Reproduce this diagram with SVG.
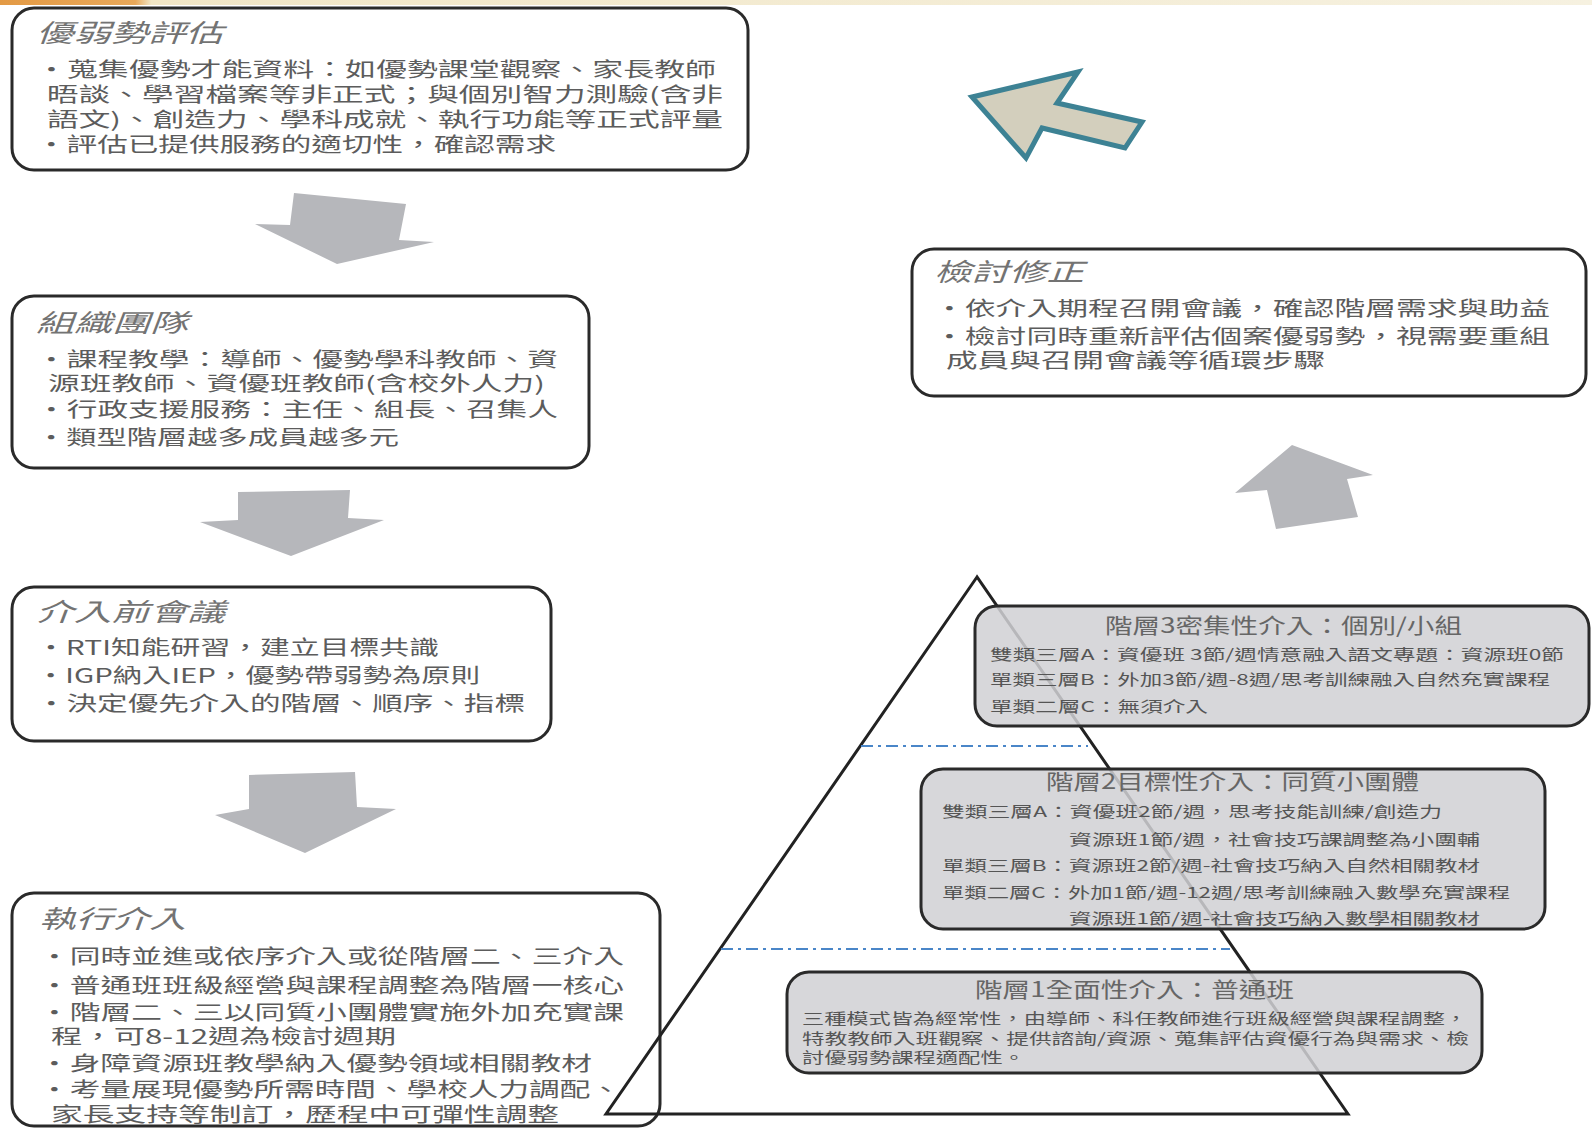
<svg xmlns="http://www.w3.org/2000/svg" width="1592" height="1130" viewBox="0 0 1592 1130">
<defs>
<linearGradient id="topband" x1="0" y1="0" x2="1" y2="0">
<stop offset="0" stop-color="#e39a45"/>
<stop offset="0.085" stop-color="#e8a85a"/>
<stop offset="0.095" stop-color="#f1e6c6"/>
<stop offset="1" stop-color="#f6f1e0"/>
</linearGradient>
<style>
.box{fill:#ffffff;stroke:#2a2a2a;stroke-width:3}
.tier{fill:#d0d1d4;fill-opacity:0.86;stroke:#2a2a2a;stroke-width:3}
.ttl{font-family:"Noto Sans CJK TC","Noto Sans CJK SC",sans-serif;font-size:25px;font-style:italic;fill:#737373}
.bd{font-family:"Noto Sans CJK TC","Noto Sans CJK SC",sans-serif;font-size:20px;fill:#5c5c5c}
.tt{font-family:"Noto Sans CJK TC","Noto Sans CJK SC",sans-serif;font-size:21px;fill:#666666}
.sm{font-family:"Noto Sans CJK TC","Noto Sans CJK SC",sans-serif;font-size:15px;fill:#555555}
.garrow{fill:#b6b7bb}
.dash{stroke:#4a86c8;stroke-width:2;stroke-dasharray:12 5 3 5;fill:none}
</style>
</defs>
<rect x="0" y="0" width="1592" height="5" fill="url(#topband)"/>

<g id="connectors">
<polygon class="garrow" points="294,193 406,204 399,240 434,242 337,264 255,224 290,225"/>
<polygon class="garrow" points="238,492 350,490 348,518 384,520 291,556 200,522 238,520"/>
<polygon class="garrow" points="249,775 355,772 357,807 396,809 305,853 215,815 249,809"/>
<polygon class="garrow" points="1292,445 1373,475 1347,479 1358,517 1276,529 1267,490 1235,493"/>
<polygon points="972,97 1078,72 1057,103 1142,122 1125,148 1042,128 1026,158" fill="#d3cfbd" stroke="#3d8294" stroke-width="5" stroke-linejoin="miter"/>
</g>

<g id="assess">
<rect class="box" x="12" y="8" width="736" height="162" rx="22"/>
<text class="ttl" x="36" y="42" textLength="187" lengthAdjust="spacingAndGlyphs">優弱勢評估</text>
<text class="bd" x="36" y="77" textLength="680" lengthAdjust="spacingAndGlyphs">•蒐集優勢才能資料：如優勢課堂觀察、家長教師</text>
<text class="bd" x="47" y="102" textLength="676" lengthAdjust="spacingAndGlyphs">晤談、學習檔案等非正式；與個別智力測驗(含非</text>
<text class="bd" x="47" y="127" textLength="676" lengthAdjust="spacingAndGlyphs">語文)、創造力、學科成就、執行功能等正式評量</text>
<text class="bd" x="36" y="152" textLength="520" lengthAdjust="spacingAndGlyphs">•評估已提供服務的適切性，確認需求</text>
</g>

<g id="team">
<rect class="box" x="12" y="296" width="577" height="172" rx="22"/>
<text class="ttl" x="36" y="332" textLength="152" lengthAdjust="spacingAndGlyphs">組織團隊</text>
<text class="bd" x="36" y="367" textLength="522" lengthAdjust="spacingAndGlyphs">•課程教學：導師、優勢學科教師、資</text>
<text class="bd" x="48" y="391" textLength="497" lengthAdjust="spacingAndGlyphs">源班教師、資優班教師(含校外人力)</text>
<text class="bd" x="36" y="417" textLength="522" lengthAdjust="spacingAndGlyphs">•行政支援服務：主任、組長、召集人</text>
<text class="bd" x="36" y="445" textLength="363" lengthAdjust="spacingAndGlyphs">•類型階層越多成員越多元</text>
</g>

<g id="premeeting">
<rect class="box" x="12" y="587" width="539" height="154" rx="22"/>
<text class="ttl" x="36" y="621" textLength="189" lengthAdjust="spacingAndGlyphs">介入前會議</text>
<text class="bd" x="36" y="655" textLength="403" lengthAdjust="spacingAndGlyphs">•RTI知能研習，建立目標共識</text>
<text class="bd" x="36" y="683" textLength="444" lengthAdjust="spacingAndGlyphs">•IGP納入IEP，優勢帶弱勢為原則</text>
<text class="bd" x="36" y="711" textLength="489" lengthAdjust="spacingAndGlyphs">•決定優先介入的階層、順序、指標</text>
</g>

<g id="execute">
<rect class="box" x="12" y="893" width="648" height="233" rx="22"/>
<text class="ttl" x="39" y="928" textLength="147" lengthAdjust="spacingAndGlyphs">執行介入</text>
<text class="bd" x="39" y="964" textLength="585" lengthAdjust="spacingAndGlyphs">•同時並進或依序介入或從階層二、三介入</text>
<text class="bd" x="39" y="993" textLength="585" lengthAdjust="spacingAndGlyphs">•普通班班級經營與課程調整為階層一核心</text>
<text class="bd" x="39" y="1020" textLength="585" lengthAdjust="spacingAndGlyphs">•階層二、三以同質小團體實施外加充實課</text>
<text class="bd" x="51" y="1044" textLength="345" lengthAdjust="spacingAndGlyphs">程，可8-12週為檢討週期</text>
<text class="bd" x="39" y="1071" textLength="553" lengthAdjust="spacingAndGlyphs">•身障資源班教學納入優勢領域相關教材</text>
<text class="bd" x="39" y="1097" textLength="582" lengthAdjust="spacingAndGlyphs">•考量展現優勢所需時間、學校人力調配、</text>
<text class="bd" x="51" y="1122" textLength="508" lengthAdjust="spacingAndGlyphs">家長支持等制訂，歷程中可彈性調整</text>
</g>

<g id="review">
<rect class="box" x="912" y="249" width="674" height="147" rx="22"/>
<text class="ttl" x="934" y="281" textLength="150" lengthAdjust="spacingAndGlyphs">檢討修正</text>
<text class="bd" x="934" y="316" textLength="616" lengthAdjust="spacingAndGlyphs">•依介入期程召開會議，確認階層需求與助益</text>
<text class="bd" x="934" y="344" textLength="616" lengthAdjust="spacingAndGlyphs">•檢討同時重新評估個案優弱勢，視需要重組</text>
<text class="bd" x="946" y="368" textLength="379" lengthAdjust="spacingAndGlyphs">成員與召開會議等循環步驟</text>
</g>

<g id="pyramid">
<polygon points="977,577 606,1114 1348,1114" fill="none" stroke="#222222" stroke-width="3" stroke-linejoin="miter"/>
<line class="dash" x1="861" y1="746" x2="1088" y2="746"/>
<line class="dash" x1="721" y1="949" x2="1230" y2="949"/>
</g>

<g id="tier3">
<rect class="tier" x="975" y="606" width="614" height="120" rx="22"/>
<text class="tt" x="1105" y="633" textLength="357" lengthAdjust="spacingAndGlyphs">階層3密集性介入：個別/小組</text>
<text class="sm" x="990" y="660" textLength="574" lengthAdjust="spacingAndGlyphs">雙類三層A：資優班 3節/週情意融入語文專題：資源班0節</text>
<text class="sm" x="990" y="685" textLength="560" lengthAdjust="spacingAndGlyphs">單類三層B：外加3節/週-8週/思考訓練融入自然充實課程</text>
<text class="sm" x="990" y="712" textLength="218" lengthAdjust="spacingAndGlyphs">單類二層C：無須介入</text>
</g>

<g id="tier2">
<rect class="tier" x="921" y="769" width="624" height="160" rx="22"/>
<text class="tt" x="1046" y="789" textLength="373" lengthAdjust="spacingAndGlyphs">階層2目標性介入：同質小團體</text>
<text class="sm" x="942" y="817" textLength="500" lengthAdjust="spacingAndGlyphs">雙類三層A：資優班2節/週，思考技能訓練/創造力</text>
<text class="sm" x="1069" y="845" textLength="411" lengthAdjust="spacingAndGlyphs">資源班1節/週，社會技巧課調整為小團輔</text>
<text class="sm" x="942" y="871" textLength="538" lengthAdjust="spacingAndGlyphs">單類三層B：資源班2節/週-社會技巧納入自然相關教材</text>
<text class="sm" x="942" y="898" textLength="568" lengthAdjust="spacingAndGlyphs">單類二層C：外加1節/週-12週/思考訓練融入數學充實課程</text>
<text class="sm" x="1069" y="924" textLength="411" lengthAdjust="spacingAndGlyphs">資源班1節/週-社會技巧納入數學相關教材</text>
</g>

<g id="tier1">
<rect class="tier" x="787" y="972" width="695" height="101" rx="22"/>
<text class="tt" x="975" y="997" textLength="319" lengthAdjust="spacingAndGlyphs">階層1全面性介入：普通班</text>
<text class="sm" x="802" y="1024" textLength="665" lengthAdjust="spacingAndGlyphs">三種模式皆為經常性，由導師、科任教師進行班級經營與課程調整，</text>
<text class="sm" x="802" y="1044" textLength="667" lengthAdjust="spacingAndGlyphs">特教教師入班觀察、提供諮詢/資源、蒐集評估資優行為與需求、檢</text>
<text class="sm" x="802" y="1063" textLength="223" lengthAdjust="spacingAndGlyphs">討優弱勢課程適配性。</text>
</g>
</svg>
